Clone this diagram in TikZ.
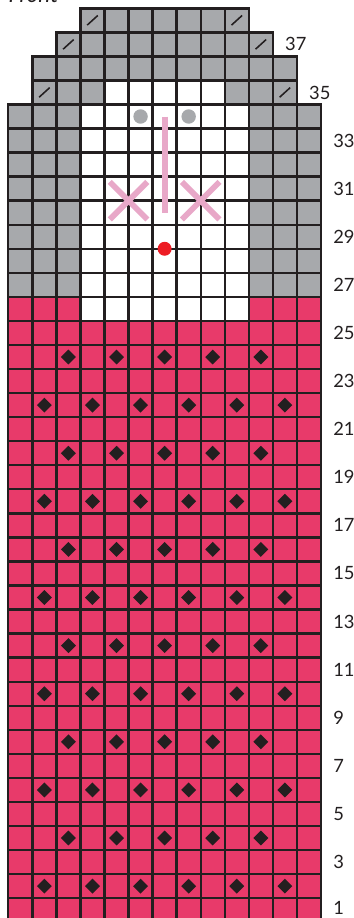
\documentclass[tikz,border=0pt]{standalone}
\usepackage{fontspec}
\setmainfont{Lato}
\usepackage{tikz}
\usetikzlibrary{positioning}
\definecolor{cPink}{RGB}{232,58,106}
\definecolor{cGray}{RGB}{167,169,172}
\definecolor{cLine}{RGB}{35,31,32}
\definecolor{cBlush}{RGB}{232,168,200}
\definecolor{cRed}{RGB}{237,28,36}
\tikzset{
  gridline/.style={draw=cLine,line width=1.7pt,line cap=rect},
  decslash/.style={draw=cLine,line width=1.1pt},
  blushline/.style={draw=cBlush,line width=4.1pt},
  rowlabel/.style={anchor=west,inner sep=0pt,font=\fontsize{13}{15}\selectfont,text=cLine},
  titletext/.style={anchor=base west,inner sep=0pt,font=\fontsize{16}{18}\selectfont\itshape,text=cLine}
}

\begin{document}
\begin{tikzpicture}[x=0.6cm,y=0.6cm]
  \useasboundingbox (-0.345,0.175) rectangle (14.374,38.345);

  % background colours
  \fill[cPink] (0,0) rectangle (13,26);
  \fill[white] (3,25) rectangle (10,34);
  \fill[white] (4,34) rectangle (9,35);
  \foreach \xa/\ya/\xb/\yb in {0/26/3/34,10/26/13/34,1/34/4/35,9/34/12/35,
                               1/35/12/36,2/36/11/37,3/37/10/38}
    \fill[cGray] (\xa,\ya) rectangle (\xb,\yb);

  % chart grid
  \draw[gridline] (0,0) grid[step=1] (13,34);
  \draw[gridline] (1,34) grid[step=1] (12,36);
  \draw[gridline] (2,36) grid[step=1] (11,37);
  \draw[gridline] (3,37) grid[step=1] (10,38);

  % decreases
  \foreach \c/\r in {4/38,10/38,3/37,11/37,2/35,12/35}
    \draw[decslash] (\c-0.72,\r-0.7) -- (\c-0.28,\r-0.3);

  % diamonds
  \foreach \r in {2,6,10,14,18,22}
    \foreach \c in {2,4,...,12}
      \fill[cLine] (\c-0.5,\r-0.5) +(0,0.31) -- +(0.31,0) -- +(0,-0.31) -- +(-0.31,0) -- cycle;
  \foreach \r in {4,8,12,16,20,24}
    \foreach \c in {3,5,...,11}
      \fill[cLine] (\c-0.5,\r-0.5) +(0,0.31) -- +(0.31,0) -- +(0,-0.31) -- +(-0.31,0) -- cycle;

  % face
  \fill[cGray] (5.5,33.5) circle[radius=0.3];
  \fill[cGray] (7.5,33.5) circle[radius=0.3];
  \draw[blushline] (6.5,33.5) -- (6.5,29.5);
  \foreach \xc in {5,8} {
    \draw[blushline] (\xc-0.78,29.22) -- (\xc+0.78,30.78);
    \draw[blushline] (\xc-0.78,30.78) -- (\xc+0.78,29.22);
  }
  \fill[cRed] (6.5,28) circle[radius=0.29];

  % row numbers
  \foreach \r in {3,5,...,33}
    \node[rowlabel] (lab\r) at (13.5,\r-0.5) {\r};
  \node[rowlabel] (lab1) at (13.5,0.58) {1};
  \node[rowlabel] (lab35) at (12.5,34.5) {35};
  \node[rowlabel] (lab37) at (11.5,36.5) {37};

  \node[titletext] (title) at (0,38.25) {Front};
\end{tikzpicture}
\end{document}
